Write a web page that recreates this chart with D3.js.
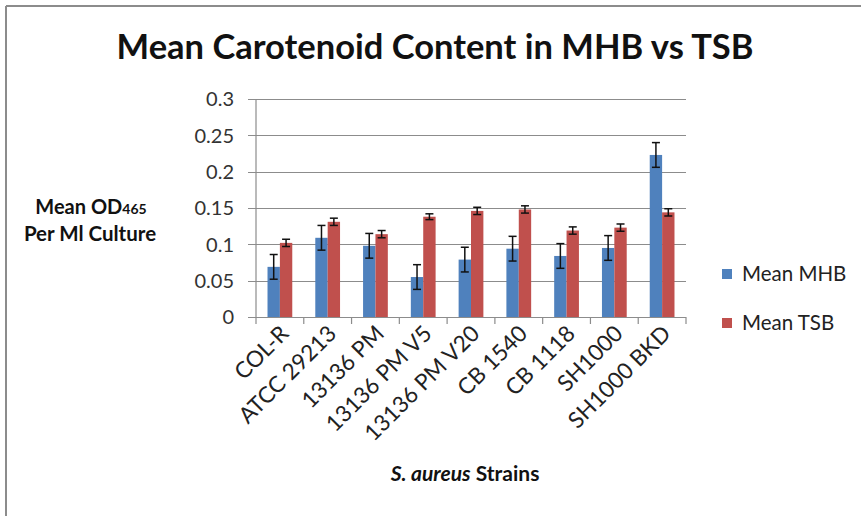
<!DOCTYPE html>
<html>
<head>
<meta charset="utf-8">
<script src="https://cdn.jsdelivr.net/npm/d3@7"></script>
<style>
  body { margin: 0; background: #fff; }
  svg { display: block; }
  text { font-family: Lato, "Open Sans", sans-serif; }
</style>
</head>
<body>
<div id="chart"></div>
<script>
// data
const strains = ["COL-R", "ATCC 29213", "13136 PM", "13136 PM V5", "13136 PM V20", "CB 1540", "CB 1118", "SH1000", "SH1000 BKD"];
const meanMHB = [0.069, 0.109, 0.098, 0.055, 0.079, 0.094, 0.084, 0.095, 0.223];
const errMHB  = [0.017, 0.017, 0.017, 0.017, 0.017, 0.017, 0.017, 0.017, 0.017];
const meanTSB = [0.102, 0.131, 0.114, 0.138, 0.146, 0.148, 0.119, 0.123, 0.144];
const errTSB  = [0.005, 0.005, 0.005, 0.004, 0.005, 0.005, 0.005, 0.005, 0.005];
const seriesNames = ["Mean MHB", "Mean TSB"];
const yTicks = [0, 0.05, 0.1, 0.15, 0.2, 0.25, 0.3];

const W = 861, H = 516;
const margin = {top: 99, left: 256, right: 175, bottom: 199};
const width = W - margin.left - margin.right;
const height = H - margin.top - margin.bottom;

const color = ["#4f81bd", "#c0504d"];

const svg = d3.select("#chart").append("svg")
  .attr("width", W)
  .attr("height", H);

// outer border (only top + left visible in the original)
svg.append("line").attr("x1", 6).attr("x2", W).attr("y1", 6).attr("y2", 6)
  .attr("stroke", "#8c8c8c").attr("stroke-width", 2);
svg.append("line").attr("x1", 6).attr("x2", 6).attr("y1", 6).attr("y2", H)
  .attr("stroke", "#8c8c8c").attr("stroke-width", 2);

const chart = svg.append("g")
  .attr("transform", "translate(" + margin.left + "," + margin.top + ")");

const x0 = d3.scaleBand()
  .domain(strains)
  .range([0, width])
  .paddingInner(0)
  .paddingOuter(0);

const x1 = d3.scaleBand()
  .domain(seriesNames)
  .range([0, x0.bandwidth()])
  .paddingOuter(0.93)
  .paddingInner(0);

const y = d3.scaleLinear()
  .domain([0, 0.3])
  .range([height, 0]);

// gridlines
chart.append("g")
  .selectAll("line")
  .data(yTicks)
  .enter().append("line")
  .attr("x1", -8)
  .attr("x2", width)
  .attr("y1", d => Math.round(y(d)) + 0.5)
  .attr("y2", d => Math.round(y(d)) + 0.5)
  .attr("stroke", "#8c8c8c")
  .attr("stroke-width", 1.2);

// y tick labels
chart.append("g")
  .selectAll("text")
  .data(yTicks)
  .enter().append("text")
  .attr("x", -22)
  .attr("y", d => y(d))
  .attr("dy", "0.36em")
  .attr("text-anchor", "end")
  .attr("font-size", 20)
  .attr("fill", "#333")
  .text(d => d);

// bars
const rows = strains.map((s, i) => ({
  strain: s,
  vals: [
    {key: seriesNames[0], v: meanMHB[i], e: errMHB[i]},
    {key: seriesNames[1], v: meanTSB[i], e: errTSB[i]}
  ]
}));

const groups = chart.append("g")
  .selectAll("g")
  .data(rows)
  .enter().append("g")
  .attr("transform", d => "translate(" + x0(d.strain) + ",0)");

groups.selectAll("rect")
  .data(d => d.vals)
  .enter().append("rect")
  .attr("x", d => x1(d.key))
  .attr("width", x1.bandwidth())
  .attr("y", d => y(d.v))
  .attr("height", d => height - y(d.v))
  .attr("fill", (d, i) => color[i]);

// error bars
const eb = groups.selectAll("g.err")
  .data(d => d.vals)
  .enter().append("g")
  .attr("class", "err")
  .attr("stroke", "#111")
  .attr("stroke-width", 1.5);

eb.append("line")
  .attr("x1", d => x1(d.key) + x1.bandwidth() / 2)
  .attr("x2", d => x1(d.key) + x1.bandwidth() / 2)
  .attr("y1", d => y(d.v + d.e))
  .attr("y2", d => y(d.v - d.e));
eb.append("line")
  .attr("x1", d => x1(d.key) + x1.bandwidth() / 2 - 4)
  .attr("x2", d => x1(d.key) + x1.bandwidth() / 2 + 4)
  .attr("y1", d => y(d.v + d.e))
  .attr("y2", d => y(d.v + d.e));
eb.append("line")
  .attr("x1", d => x1(d.key) + x1.bandwidth() / 2 - 4)
  .attr("x2", d => x1(d.key) + x1.bandwidth() / 2 + 4)
  .attr("y1", d => y(d.v - d.e))
  .attr("y2", d => y(d.v - d.e));

// axes lines
chart.append("line")
  .attr("x1", 0).attr("x2", 0).attr("y1", 0).attr("y2", height)
  .attr("stroke", "#8c8c8c").attr("stroke-width", 1.2);

chart.append("g")
  .selectAll("line")
  .data(d3.range(strains.length + 1))
  .enter().append("line")
  .attr("x1", i => i * x0.bandwidth())
  .attr("x2", i => i * x0.bandwidth())
  .attr("y1", height)
  .attr("y2", height + 7)
  .attr("stroke", "#8c8c8c").attr("stroke-width", 1.2);

// x labels rotated
chart.append("g")
  .selectAll("text")
  .data(strains)
  .enter().append("text")
  .attr("transform", d => "translate(" + (x0(d) + x0.bandwidth() / 2 + 10) + "," + (height + 18) + ") rotate(-45)")
  .attr("text-anchor", "end")
  .attr("font-size", 22.5)
  .attr("fill", "#222")
  .text(d => d);

// title
svg.append("text")
  .attr("x", 435)
  .attr("y", 59)
  .attr("text-anchor", "middle")
  .attr("font-size", 34.5)
  .attr("font-weight", "bold")
  .attr("fill", "#111")
  .text("Mean Carotenoid Content in MHB vs TSB");

// y title
const yt = svg.append("text")
  .attr("x", 91)
  .attr("y", 214)
  .attr("text-anchor", "middle")
  .attr("font-size", 20)
  .attr("font-weight", "bold")
  .attr("fill", "#111");
yt.append("tspan").text("Mean OD");
yt.append("tspan").attr("font-size", 14).text("465");
svg.append("text")
  .attr("x", 90)
  .attr("y", 241)
  .attr("text-anchor", "middle")
  .attr("font-size", 20.5)
  .attr("font-weight", "bold")
  .attr("fill", "#111")
  .text("Per Ml Culture");

// x title
const xt = svg.append("text")
  .attr("x", 465)
  .attr("y", 481)
  .attr("text-anchor", "middle")
  .attr("font-size", 21)
  .attr("font-weight", "bold")
  .attr("fill", "#111");
xt.append("tspan").attr("font-style", "italic").text("S. aureus");
xt.append("tspan").text(" Strains");

// legend
const legend = svg.append("g")
  .selectAll("g")
  .data(seriesNames)
  .enter().append("g")
  .attr("transform", (d, i) => "translate(722," + (269 + i * 49) + ")");
legend.append("rect")
  .attr("width", 10).attr("height", 10)
  .attr("fill", (d, i) => color[i]);
legend.append("text")
  .attr("x", 20)
  .attr("y", 5)
  .attr("dy", "0.36em")
  .attr("font-size", 20.5)
  .attr("fill", "#222")
  .text(d => d);
</script>
</body>
</html>
